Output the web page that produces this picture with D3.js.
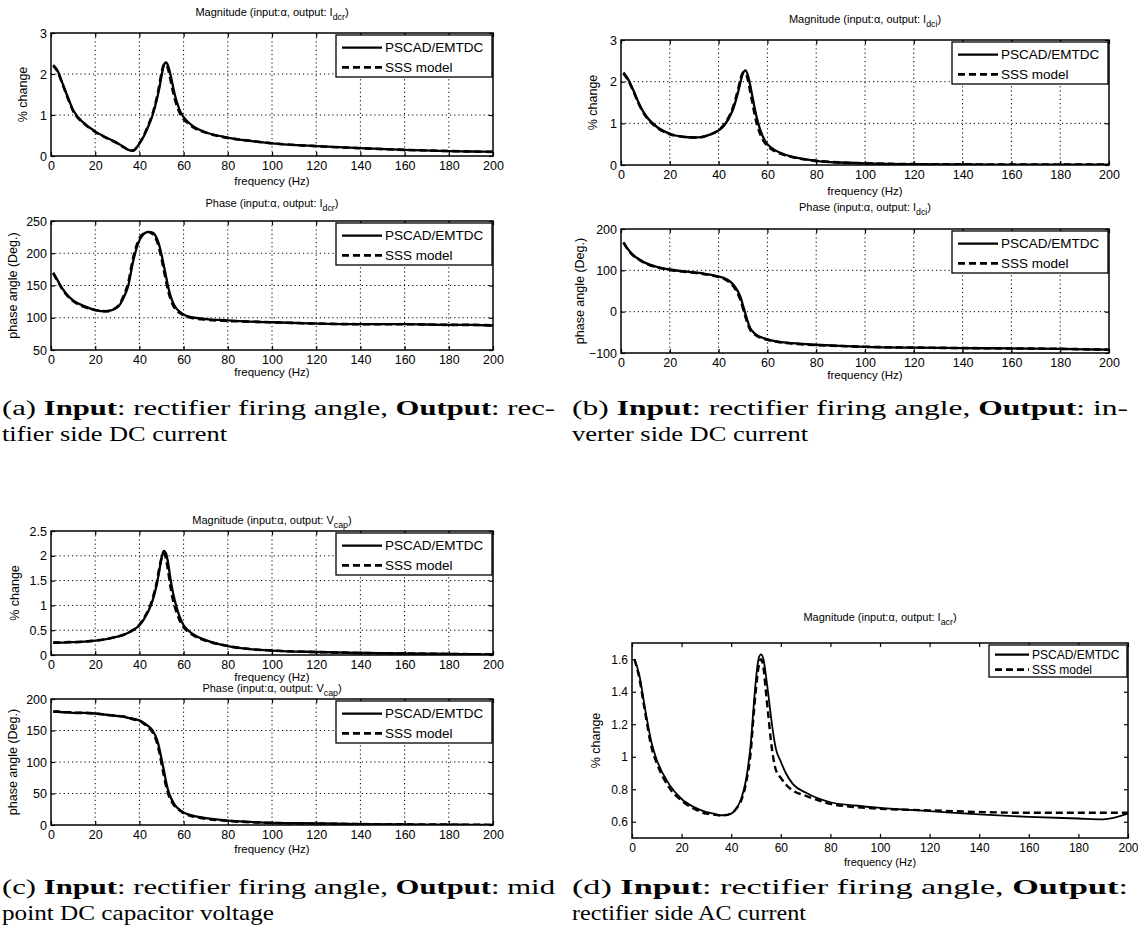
<!DOCTYPE html>
<html><head><meta charset="utf-8">
<script src="https://cdn.jsdelivr.net/npm/d3@7"></script>
<style>body{margin:0;background:#fff}svg{display:block}</style>
</head><body><svg id="c" width="1138" height="949"></svg>
<script>
// ---------- data ----------
const freq = [1,3,5,8,10,15,20,25,30,33,35,37,40,42,44,46,48,49,50,51,52,53,54,55,56,58,60,62,65,70,80,90,100,120,140,160,180,190,200];
const xTicks = [0,20,40,60,80,100,120,140,160,180,200];
const seriesNames = ["PSCAD/EMTDC","SSS model"];

// (a) rectifier side DC current
const aMagPscad = [2.22,2.08,1.8,1.38,1.12,0.8,0.6,0.45,0.32,0.22,0.15,0.13,0.3,0.48,0.72,1.0,1.4,1.65,1.95,2.2,2.28,2.2,2.0,1.75,1.5,1.15,0.95,0.83,0.7,0.58,0.45,0.37,0.31,0.24,0.19,0.15,0.12,0.11,0.1];
const aMagSss   = [2.2,2.06,1.78,1.36,1.1,0.79,0.59,0.44,0.31,0.21,0.15,0.13,0.31,0.5,0.75,1.04,1.45,1.72,2.02,2.22,2.24,2.12,1.88,1.62,1.4,1.08,0.9,0.8,0.68,0.57,0.44,0.37,0.31,0.24,0.19,0.15,0.12,0.11,0.1];
const aPhPscad  = [170,158,146,133,127,118,112,110,116,132,150,185,220,230,233,232,222,212,198,182,165,148,135,125,118,110,105,102,100,98,96,94,93,91,90,90,89,89,88];
const aPhSss    = [169,157,145,132,126,117,112,110,117,135,155,190,223,231,233,230,218,207,192,175,158,142,130,121,115,108,104,101,99,97,95,94,93,91,90,90,89,89,88];

// (b) inverter side DC current
const bMagPscad = [2.22,2.05,1.8,1.4,1.2,0.9,0.75,0.68,0.66,0.67,0.7,0.74,0.83,0.93,1.1,1.35,1.75,2.0,2.2,2.27,2.15,1.9,1.6,1.3,1.05,0.7,0.5,0.4,0.3,0.2,0.1,0.06,0.04,0.02,0.015,0.01,0.01,0.01,0.01];
const bMagSss   = [2.2,2.03,1.78,1.38,1.18,0.89,0.74,0.68,0.66,0.67,0.7,0.74,0.84,0.95,1.13,1.4,1.82,2.06,2.22,2.2,2.05,1.75,1.45,1.15,0.92,0.62,0.46,0.37,0.28,0.19,0.1,0.06,0.04,0.02,0.015,0.01,0.01,0.01,0.01];
const bPhPscad  = [168,150,137,125,118,108,102,98,95,93,91,89,85,82,76,66,48,35,15,-5,-25,-40,-48,-54,-58,-63,-67,-70,-73,-76,-80,-83,-85,-87,-88,-89,-90,-91,-92];
const bPhSss    = [167,149,136,124,117,107,101,97,94,92,90,88,84,80,73,62,42,28,8,-12,-31,-44,-51,-56,-60,-64,-68,-71,-74,-77,-81,-83,-85,-87,-88,-89,-90,-91,-92];

// (c) mid point DC capacitor voltage
const cMagPscad = [0.25,0.25,0.25,0.26,0.26,0.27,0.29,0.32,0.37,0.41,0.45,0.5,0.6,0.72,0.88,1.1,1.45,1.7,1.95,2.1,2.05,1.85,1.55,1.3,1.1,0.8,0.6,0.5,0.4,0.3,0.18,0.12,0.09,0.06,0.04,0.03,0.02,0.015,0.01];
const cMagSss   = [0.25,0.25,0.25,0.26,0.26,0.27,0.29,0.32,0.37,0.41,0.45,0.5,0.61,0.74,0.9,1.14,1.5,1.75,1.95,2.05,1.95,1.7,1.4,1.15,0.98,0.72,0.56,0.47,0.38,0.29,0.18,0.12,0.09,0.06,0.04,0.03,0.02,0.015,0.01];
const cPhPscad  = [180,180,179,179,178,178,177,175,173,172,170,169,166,162,157,150,135,122,105,88,70,55,45,38,32,25,20,17,14,11,7,5,3.5,2.5,1.5,1,0.5,0.3,0];
const cPhSss    = [180,180,179,179,178,178,177,175,173,172,170,168,165,161,155,147,130,116,98,80,63,50,41,35,30,24,19,16,13,10,6.5,4.5,3.3,2.3,1.4,1,0.5,0.3,0];

// (d) rectifier side AC current
const dMagPscad = [1.6,1.5,1.32,1.08,0.98,0.83,0.74,0.69,0.66,0.65,0.64,0.64,0.65,0.68,0.74,0.86,1.1,1.3,1.48,1.6,1.63,1.6,1.5,1.38,1.25,1.05,0.97,0.9,0.83,0.78,0.72,0.7,0.685,0.665,0.645,0.63,0.62,0.615,0.65];
const dMagSss   = [1.6,1.48,1.3,1.05,0.96,0.81,0.73,0.68,0.65,0.645,0.64,0.64,0.65,0.68,0.73,0.84,1.05,1.25,1.42,1.55,1.6,1.55,1.4,1.25,1.1,0.92,0.87,0.83,0.79,0.76,0.71,0.69,0.68,0.67,0.66,0.655,0.655,0.655,0.655];

const magTicks3   = [0,1,2,3];
const magTicks25  = [0,0.5,1,1.5,2,2.5];
const phTicksA    = [50,100,150,200,250];
const phTicksB    = [-100,0,100,200];
const phTicksC    = [0,50,100,150,200];
const magTicksD   = [0.6,0.8,1,1.2,1.4,1.6];

// ---------- drawing ----------
const svg = d3.select('#c');
const SANS = "'Liberation Sans', Arial, Helvetica, sans-serif";
const NARROW = "'Liberation Sans Narrow', 'Liberation Sans', Arial, sans-serif";
const fmt = d => (d < 0 ? "\u2212" : "") + String(Math.abs(Math.round(d*10)/10));

function panel(c) {
  const font = c.narrow ? NARROW : SANS;
  const x = d3.scaleLinear().domain([0,200]).range([c.l, c.r]);
  const y = d3.scaleLinear().domain(c.yDomain).range([c.b, c.t]);
  const g = svg.append('g').attr('font-family', font);

  if (c.grid) {
    g.append('g').selectAll('line').data(xTicks.slice(1,-1)).join('line')
      .attr('x1', d => x(d)).attr('x2', d => x(d)).attr('y1', c.t).attr('y2', c.b)
      .attr('stroke', '#000').attr('stroke-width', 1).attr('stroke-dasharray', '1.2,3');
    g.append('g').selectAll('line').data(c.yTicks.filter(v => v > c.yDomain[0] && v < c.yDomain[1])).join('line')
      .attr('y1', d => y(d)).attr('y2', d => y(d)).attr('x1', c.l).attr('x2', c.r)
      .attr('stroke', '#000').attr('stroke-width', 1).attr('stroke-dasharray', '1.2,3');
  }

  const fs = c.tickFs || 12.5;
  const axB = g.append('g').attr('transform', `translate(0,${c.b})`)
    .call(d3.axisBottom(x).tickValues(xTicks).tickSizeInner(-4).tickSizeOuter(0).tickPadding(5).tickFormat(d3.format('d')));
  const axT = g.append('g').attr('transform', `translate(0,${c.t})`)
    .call(d3.axisTop(x).tickValues(xTicks).tickSizeInner(-4).tickSizeOuter(0).tickFormat(''));
  const axL = g.append('g').attr('transform', `translate(${c.l},0)`)
    .call(d3.axisLeft(y).tickValues(c.yTicks).tickSizeInner(-4).tickSizeOuter(0).tickPadding(4).tickFormat(fmt));
  const axR = g.append('g').attr('transform', `translate(${c.r},0)`)
    .call(d3.axisRight(y).tickValues(c.yTicks).tickSizeInner(-4).tickSizeOuter(0).tickFormat(''));
  [axB, axT, axL, axR].forEach(a => {
    a.select('.domain').remove();
    a.selectAll('line').attr('stroke', '#000').attr('stroke-width', 1.2);
    a.selectAll('text').attr('font-family', font).attr('font-size', fs).attr('fill', '#000');
  });

  const line = d3.line().x((d, i) => x(freq[i])).y(d => y(d)).curve(d3.curveMonotoneX);
  const clipId = 'clip' + c.id;
  svg.append('clipPath').attr('id', clipId).append('rect')
    .attr('x', c.l).attr('y', c.t).attr('width', c.r - c.l).attr('height', c.b - c.t);
  const lg = g.append('g').attr('clip-path', `url(#${clipId})`);
  lg.append('path').datum(c.s1).attr('d', line).attr('fill', 'none')
    .attr('stroke', '#000').attr('stroke-width', c.w1 || 2.3).attr('stroke-linejoin', 'round');
  lg.append('path').datum(c.s2).attr('d', line).attr('fill', 'none')
    .attr('stroke', '#000').attr('stroke-width', c.w2 || 2.6).attr('stroke-dasharray', c.dash || '7,4');

  // frame
  g.append('rect').attr('x', c.l).attr('y', c.t).attr('width', c.r - c.l).attr('height', c.b - c.t)
    .attr('fill', 'none').attr('stroke', '#000').attr('stroke-width', 1.5);

  // title
  const tfs = c.titleFs || 11;
  const tt = g.append('text').attr('x', (c.l + c.r) / 2).attr('y', c.titleY)
    .attr('text-anchor', 'middle').attr('font-size', tfs).attr('fill', '#000');
  tt.append('tspan').text(c.title[0]);
  tt.append('tspan').text(c.title[1]).attr('dy', 4).attr('font-size', tfs * 0.8);
  tt.append('tspan').text(')').attr('dy', -4);

  // axis labels
  g.append('text').attr('x', (c.l + c.r) / 2).attr('y', c.xlabY).attr('text-anchor', 'middle')
    .attr('font-size', c.labFs || 11.5).text('frequency (Hz)');
  g.append('text').attr('transform', `translate(${c.l - c.ylabOff},${(c.t + c.b) / 2}) rotate(-90)`)
    .attr('text-anchor', 'middle').attr('font-size', c.ylabFs || 12.5).text(c.ylab);

  // legend
  const L = c.leg;
  const bx = c.r - L.w - 1, by = c.t + 2;
  const lgd = g.append('g');
  lgd.append('rect').attr('x', bx).attr('y', by).attr('width', L.w).attr('height', L.h)
    .attr('fill', '#fff').attr('stroke', '#000').attr('stroke-width', 1.3);
  const rows = [L.h * 0.3, L.h * 0.77];
  seriesNames.forEach((n, i) => {
    lgd.append('line').attr('x1', bx + 6).attr('x2', bx + 6 + L.line).attr('y1', by + rows[i]).attr('y2', by + rows[i])
      .attr('stroke', '#000').attr('stroke-width', i ? 2.6 : 2.2).attr('stroke-dasharray', i ? '7,4' : null);
    lgd.append('text').attr('x', bx + 9 + L.line).attr('y', by + rows[i]).attr('dy', '0.36em')
      .attr('font-size', L.fs).text(n);
  });
}

const legStd = {w: 156, h: 42, line: 40, fs: 13.5};
const legD = {w: 138, h: 32, line: 34, fs: 12};

panel({id:'am', l:51, r:493, t:33, b:156, yDomain:[0,3], yTicks:magTicks3, grid:true, s1:aMagPscad, s2:aMagSss,
  title:['Magnitude (input:\u03b1, output: I','dcr'], titleY:16, xlabY:185, ylab:'% change', ylabOff:24, leg:legStd});
panel({id:'ap', l:51, r:493, t:221, b:350, yDomain:[50,250], yTicks:phTicksA, grid:true, s1:aPhPscad, s2:aPhSss,
  title:['Phase (input:\u03b1, output: I','dcr'], titleY:207, xlabY:376, ylab:'phase angle (Deg.)', ylabOff:34, leg:legStd});
panel({id:'bm', l:621, r:1109, t:40, b:165, yDomain:[0,3], yTicks:magTicks3, grid:true, s1:bMagPscad, s2:bMagSss,
  title:['Magnitude (input:\u03b1, output: I','dci'], titleY:23, xlabY:195, ylab:'% change', ylabOff:24, leg:legStd});
panel({id:'bp', l:621, r:1109, t:229, b:353, yDomain:[-100,200], yTicks:phTicksB, grid:true, s1:bPhPscad, s2:bPhSss,
  title:['Phase (input:\u03b1, output: I','dci'], titleY:211, xlabY:379, ylab:'phase angle (Deg.)', ylabOff:37, leg:legStd});
panel({id:'cm', l:51, r:493, t:531, b:655, yDomain:[0,2.5], yTicks:magTicks25, grid:true, s1:cMagPscad, s2:cMagSss,
  title:['Magnitude (input:\u03b1, output: V','cap'], titleY:524, xlabY:681, ylab:'% change', ylabOff:32, leg:legStd});
panel({id:'cp', l:51, r:493, t:699, b:825, yDomain:[0,200], yTicks:phTicksC, grid:true, s1:cPhPscad, s2:cPhSss,
  title:['Phase (input:\u03b1, output: V','cap'], titleY:692, xlabY:853, ylab:'phase angle (Deg.)', ylabOff:34, leg:legStd});
panel({id:'dm', l:632, r:1128, t:643, b:838, yDomain:[0.5,1.7], yTicks:magTicksD, grid:false, s1:dMagPscad, s2:dMagSss,
  title:['Magnitude (input:\u03b1, output: I','acr'], titleY:621, xlabY:866, ylab:'% change', ylabOff:32, leg:legD,
  narrow:true, tickFs:12, labFs:11, titleFs:11, w1:1.8, w2:2.4});

// ---------- captions ----------
const SERIF = "Liberation Serif";
function caption(x, y, parts, len) {
  const t = svg.append('text').attr('x', x).attr('y', y).attr('font-size', 21).attr('fill', '#000')
    .style('font-family', SERIF);
  parts.forEach(p => t.append('tspan').attr('font-weight', p[1] ? 'bold' : 'normal').text(p[0]));
  if (len) t.attr('textLength', len).attr('lengthAdjust', 'spacingAndGlyphs');
}
caption(2, 415, [['(a) ',0],['Input',1],[': rectifier firing angle, ',0],['Output',1],[': rec-',0]], 553);
caption(2, 441, [['tifier side DC current',0]], 225);
caption(572, 415, [['(b) ',0],['Input',1],[': rectifier firing angle, ',0],['Output',1],[': in-',0]], 556);
caption(572, 441, [['verter side DC current',0]], 236);
caption(2, 894, [['(c) ',0],['Input',1],[': rectifier firing angle, ',0],['Output',1],[': mid',0]], 553);
caption(2, 920, [['point DC capacitor voltage',0]], 272);
caption(572, 894, [['(d) ',0],['Input',1],[':  rectifier  firing  angle,  ',0],['Output',1],[':',0]], 556);
caption(572, 920, [['rectifier side AC current',0]], 234);
</script>
</body></html>
